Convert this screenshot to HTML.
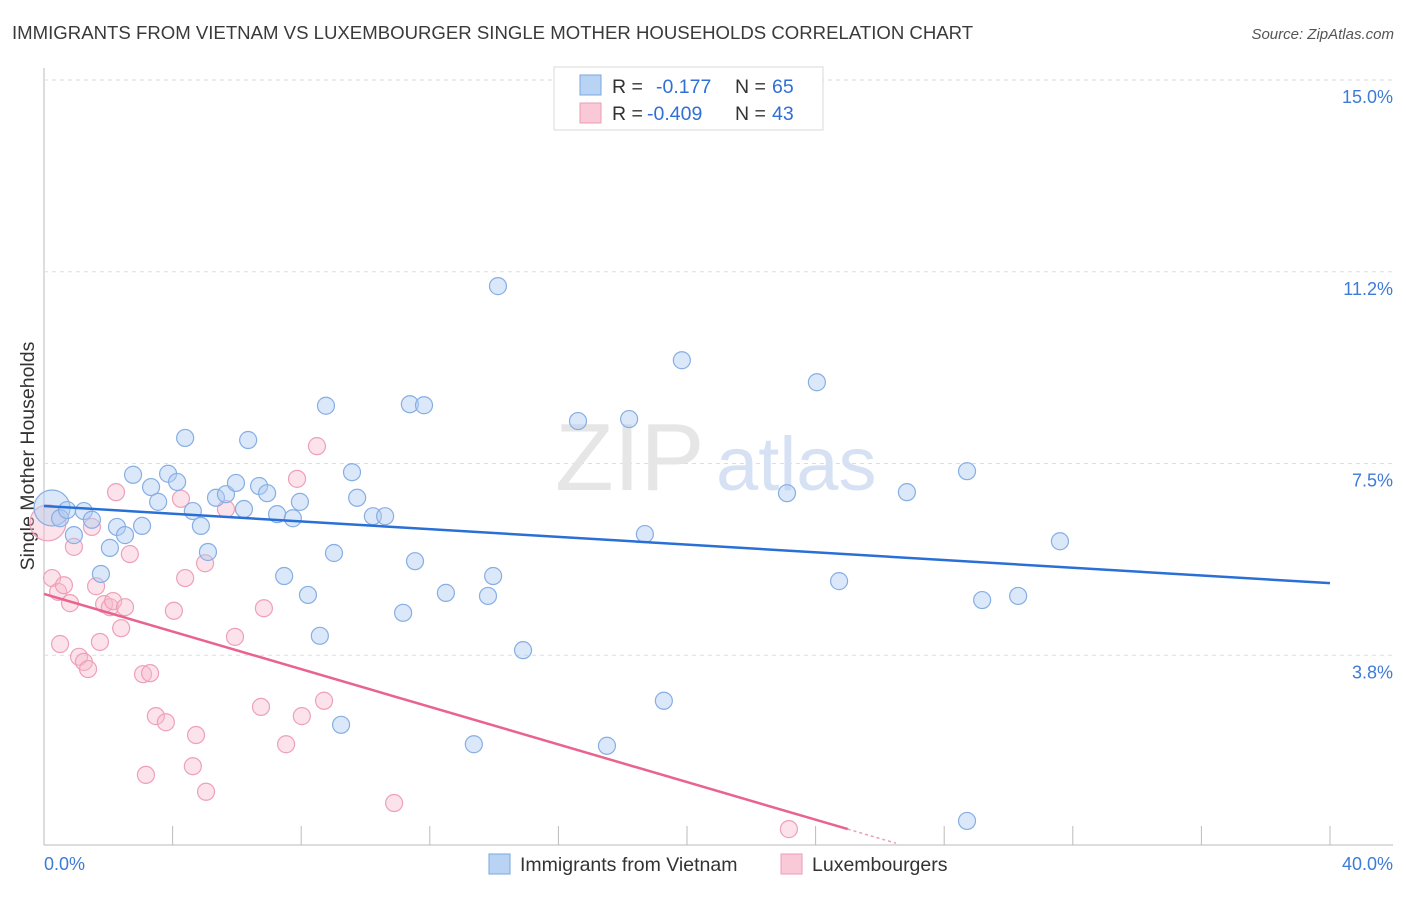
<!DOCTYPE html>
<html><head><meta charset="utf-8"><style>
body{margin:0;background:#fff;font-family:"Liberation Sans",sans-serif}
svg text{font-family:"Liberation Sans",sans-serif}
</style></head><body>
<svg id="chart" width="1406" height="892" viewBox="0 0 1406 892" xmlns="http://www.w3.org/2000/svg">
<text x="12" y="39" font-size="18.6" fill="#3a3a3a">IMMIGRANTS FROM VIETNAM VS LUXEMBOURGER SINGLE MOTHER HOUSEHOLDS CORRELATION CHART</text>
<text x="1394" y="39" font-size="15" fill="#555" font-style="italic" text-anchor="end">Source: ZipAtlas.com</text>
<g id="grid"></g>
<g><text x="555" y="490" font-size="96" fill="#e6e6e6" font-family="Liberation Serif">ZIP</text><text x="716" y="490" font-size="76" fill="#d6e2f3">atlas</text></g>
<text transform="translate(34,456) rotate(-90)" font-size="19.5" fill="#333" text-anchor="middle">Single Mother Households</text>
<g id="points"></g>
<g id="trends"></g>
<g>
<rect x="554" y="67" width="269" height="63" fill="#fff" stroke="#d8d8d8"/>
<rect x="580" y="75" width="21" height="20" fill="#b9d3f4" stroke="#7aa7e0"/>
<rect x="580" y="103" width="21" height="20" fill="#fac9d8" stroke="#ee9cb6"/>
<text x="612" y="93" font-size="19.5" fill="#333">R =</text>
<text x="656" y="93" font-size="19.5" fill="#2f6fd6">-0.177</text>
<text x="735" y="93" font-size="19.5" fill="#333">N =</text>
<text x="772" y="93" font-size="19.5" fill="#2f6fd6">65</text>
<text x="612" y="120" font-size="19.5" fill="#333">R =</text>
<text x="647" y="120" font-size="19.5" fill="#2f6fd6">-0.409</text>
<text x="735" y="120" font-size="19.5" fill="#333">N =</text>
<text x="772" y="120" font-size="19.5" fill="#2f6fd6">43</text>
</g>
<g>
<rect x="489" y="854" width="21" height="20" fill="#b9d3f4" stroke="#7aa7e0"/>
<text x="520" y="871" font-size="19.5" fill="#333">Immigrants from Vietnam</text>
<rect x="781" y="854" width="21" height="20" fill="#fac9d8" stroke="#ee9cb6"/>
<text x="812" y="871" font-size="19.5" fill="#333">Luxembourgers</text>
</g>
</svg>
<script>
const xTicks=[0,4,8,12,16,20,24,28,32,36,40];
const yTicks=[3.75,7.5,11.25,15];
const yTickLabels=["3.8%","7.5%","11.2%","15.0%"];
const blueX=[0.25,0.50,0.72,0.93,1.24,1.49,1.77,2.05,2.27,2.52,2.77,3.05,3.33,3.55,3.86,4.14,4.39,4.63,4.88,5.10,5.35,5.66,5.97,6.22,6.35,6.69,6.94,7.25,7.47,7.74,7.96,8.21,8.58,8.77,9.02,9.24,9.58,9.74,10.23,10.61,11.17,11.38,11.54,11.82,12.50,13.37,13.81,13.97,14.12,14.90,16.61,17.51,18.20,18.69,19.28,19.84,23.11,24.04,24.73,26.84,28.71,28.71,29.18,30.30,31.60];
const blueY=[6.63,6.43,6.59,6.10,6.57,6.40,5.34,5.85,6.26,6.10,7.28,6.28,7.04,6.75,7.30,7.14,8.00,6.57,6.28,5.77,6.83,6.90,7.12,6.61,7.96,7.06,6.92,6.51,5.30,6.43,6.75,4.93,4.13,8.63,5.75,2.39,7.33,6.83,6.47,6.47,4.58,8.66,5.59,8.64,4.97,2.01,4.91,5.30,10.97,3.85,8.33,1.98,8.37,6.12,2.86,9.52,6.92,9.09,5.20,6.94,7.35,0.51,4.83,4.91,5.98];
const pinkX=[0.12,0.25,0.44,0.62,0.81,0.93,1.09,1.24,1.37,1.49,1.62,1.74,1.87,2.05,2.15,2.24,2.40,2.52,2.67,3.08,3.17,3.30,3.48,3.79,4.04,4.39,4.26,4.63,4.73,5.04,5.66,5.01,5.94,6.75,6.84,7.53,7.87,8.02,8.49,8.71,10.89,23.17,0.50];
const pinkY=[6.34,5.26,4.99,5.12,4.77,5.87,3.72,3.62,3.48,6.26,5.10,4.01,4.75,4.69,4.81,6.94,4.28,4.69,5.73,3.38,1.41,3.40,2.56,2.44,4.62,5.26,6.81,1.58,2.19,1.08,6.61,5.55,4.11,2.74,4.67,2.01,7.20,2.56,7.84,2.86,0.86,0.35,3.97];
const blueTrend=[6.67,5.16];
const pinkTrend=[4.95,0.35];
const NS="http://www.w3.org/2000/svg";
const X=v=>44+v*32.15, Y=v=>847-v*51.13;
function mk(t,a,p){const e=document.createElementNS(NS,t);for(const k in a)e.setAttribute(k,a[k]);document.getElementById(p).appendChild(e);return e;}
let g;
g=mk('line',{x1:44,y1:845,x2:1393,y2:845,stroke:'#bbb'},'grid');


g=mk('line',{x1:44,y1:68,x2:44,y2:845,stroke:'#bbb'},'grid');


yTicks.forEach((v,i)=>{
 g=mk('line',{x1:44,y1:Y(v),x2:1393,y2:Y(v),stroke:'#ddd','stroke-dasharray':'4,4'},'grid');
 
 
 g=mk('text',{x:1393,y:Y(v)+23,'font-size':18,fill:'#3d7bd8','text-anchor':'end'},'grid');
 g.textContent=yTickLabels[i];
 
 
});
xTicks.forEach(v=>{
 g=mk('line',{x1:X(v),y1:826,x2:X(v),y2:845,stroke:'#bbb'},'grid');
 
 
});
g=mk('text',{x:44,y:870,'font-size':18,fill:'#3d7bd8'},'grid');g.textContent='0.0%';


g=mk('text',{x:1393,y:870,'font-size':18,fill:'#3d7bd8','text-anchor':'end'},'grid');g.textContent='40.0%';


pinkX.forEach((v,i)=>{
 g=mk('circle',{cx:X(v),cy:Y(pinkY[i]),r:i==0?18:8.5,fill:'rgba(248,186,205,0.4)',stroke:'#eea0b8','stroke-width':1.2},'points');
 
 
});
blueX.forEach((v,i)=>{
 g=mk('circle',{cx:X(v),cy:Y(blueY[i]),r:i==0?18:8.5,fill:'rgba(175,205,242,0.45)',stroke:'#86aee4','stroke-width':1.2},'points');
 
 
});
g=mk('line',{x1:X(0),y1:Y(blueTrend[0]),x2:X(40),y2:Y(blueTrend[1]),stroke:'#2a6fd6','stroke-width':2.5},'trends');


const ps=(pinkTrend[1]-pinkTrend[0])/25;
g=mk('line',{x1:X(0),y1:Y(pinkTrend[0]),x2:X(25),y2:Y(pinkTrend[1]),stroke:'#e8648f','stroke-width':2.5},'trends');


g=mk('line',{x1:X(25),y1:Y(pinkTrend[1]),x2:X(26.5),y2:Y(pinkTrend[0]+ps*26.5),stroke:'#e8a0b6','stroke-width':1.5,'stroke-dasharray':'3,3'},'trends');


</script>
</body></html>
